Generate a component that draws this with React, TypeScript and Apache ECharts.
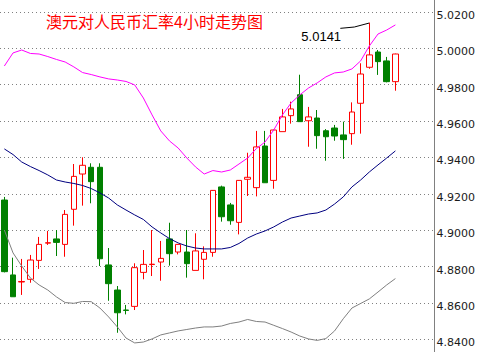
import React, { useEffect, useRef } from "react";
import * as echarts from "echarts";

const titleText = "澳元对人民币汇率4小时走势图";
const annotationText = "5.0141";
const yTicks = { min: 4.84, max: 5.02, step: 0.02 };

const opens = [
  4.9166, 4.8754, 4.8715, 4.873, 4.8834, 4.8929, 4.8952, 4.8922, 4.9115, 4.9309,
  4.9346, 4.9346, 4.8809, 4.8671, 4.8561, 4.8581, 4.8768, 4.8811, 4.8825, 4.8952,
  4.888, 4.888, 4.8779, 4.884, 4.8878, 4.9238, 4.9139, 4.9043, 4.928, 4.9234,
  4.9463, 4.9274, 4.9542, 4.963, 4.9745, 4.9602, 4.9617, 4.9547, 4.9562, 4.9524,
  4.9531, 4.9698, 4.9896, 4.998, 4.9931, 4.9817,
];
const closes = [
  4.8772, 4.8634, 4.8718, 4.8836, 4.8922, 4.8931, 4.8933, 4.9087, 4.9296, 4.9357,
  4.9267, 4.8843, 4.8706, 4.8546, 4.8559, 4.8794, 4.8812, 4.8813, 4.8845, 4.8871,
  4.8922, 4.8816, 4.8886, 4.8878, 4.9219, 4.9074, 4.9052, 4.9274, 4.9291, 4.9458,
  4.9261, 4.9551, 4.9623, 4.9667, 4.9597, 4.9623, 4.952, 4.9514, 4.9518, 4.9498,
  4.965, 4.9859, 4.9964, 4.9927, 4.9817, 4.9969,
];
const lows = [
  4.8768, 4.8634, 4.8644, 4.8711, 4.8787, 4.8919, 4.8858, 4.8854, 4.9025, 4.9135,
  4.9148, 4.8803, 4.8612, 4.8436, 4.8537, 4.8561, 4.873, 4.8748, 4.8722, 4.8805,
  4.8867, 4.8739, 4.8779, 4.873, 4.8854, 4.9047, 4.903, 4.8977, 4.9188, 4.9186,
  4.9261, 4.9228, 4.9542, 4.9586, 4.9597, 4.9459, 4.9448, 4.9382, 4.9492, 4.9392,
  4.947, 4.9531, 4.9888, 4.9854, 4.9813, 4.9767,
];
const highs = [
  4.9183, 4.8849, 4.8842, 4.8864, 4.8963, 4.8996, 4.9001, 4.9111, 4.9364, 4.9401,
  4.9368, 4.9368, 4.8902, 4.8693, 4.8589, 4.8818, 4.8891, 4.9001, 4.8941, 4.9041,
  4.8924, 4.9001, 4.8983, 4.8911, 4.9221, 4.9245, 4.915, 4.9276, 4.9426, 4.9546,
  4.9546, 4.9553, 4.9667, 4.9707, 4.9855, 4.9678, 4.9661, 4.9556, 4.9579, 4.9597,
  4.9703, 4.9918, 5.0141, 4.9991, 4.9953, 4.9971,
];
const upperBand = [
  4.9903, 4.9975, 4.9991, 4.9972, 4.9969, 4.9955, 4.9939, 4.9925, 4.9898, 4.9867,
  4.9856, 4.9843, 4.9832, 4.9826, 4.9818, 4.9799, 4.9727, 4.9634, 4.9546, 4.9491,
  4.9452, 4.9397, 4.9348, 4.9309, 4.9328, 4.932, 4.9331, 4.9364, 4.9397, 4.9449,
  4.9485, 4.9551, 4.9634, 4.97, 4.9744, 4.9782, 4.981, 4.9843, 4.9865, 4.987,
  4.9887, 4.9931, 5.0013, 5.0079, 5.0101, 5.0129,
];
const middleBand = [
  4.9447, 4.9416, 4.9375, 4.935, 4.9328, 4.9304, 4.9276, 4.9265, 4.9257, 4.9246,
  4.9229, 4.9205, 4.9177, 4.9139, 4.9111, 4.9084, 4.9059, 4.9018, 4.8985, 4.8954,
  4.893, 4.8913, 4.8902, 4.8897, 4.8897, 4.8897, 4.8905, 4.8927, 4.8957, 4.8979,
  4.8996, 4.9018, 4.9045, 4.9067, 4.9078, 4.9089, 4.9095, 4.9111, 4.9144, 4.9183,
  4.9238, 4.9276, 4.932, 4.9359, 4.9397, 4.9436,
];
const lowerBand = [
  4.9001, 4.8875, 4.8803, 4.8737, 4.8699, 4.8671, 4.8633, 4.8602, 4.8598, 4.8608,
  4.8607, 4.8572, 4.8523, 4.8468, 4.8407, 4.838, 4.8385, 4.8402, 4.8424, 4.8435,
  4.8446, 4.8454, 4.8462, 4.8468, 4.8468, 4.8473, 4.8487, 4.8495, 4.8509, 4.8498,
  4.8495, 4.8477, 4.8459, 4.844, 4.8418, 4.8402, 4.8394, 4.8404, 4.8446, 4.8513,
  4.8572, 4.8597, 4.8622, 4.866, 4.8699, 4.8734,
];
const annotatedIndex = 42;
const slotCount = 50;
const categories = Array.from({ length: slotCount }, (_, i) => String(i + 1));

export default function App() {
  const ref = useRef<HTMLDivElement>(null);
  useEffect(() => {
    if (!ref.current) return;
    const chart = echarts.init(ref.current, null, { renderer: "svg" });
    const candles = opens.map((o, i) => [o, closes[i], lows[i], highs[i]]);
    const gridLeft = -1.5;
    const gridRight = 45.5;
    chart.setOption({
      animation: false,
      backgroundColor: "#ffffff",
      title: {
        text: titleText,
        left: 46,
        top: 12,
        padding: 0,
        textStyle: {
          color: "#ff0000",
          fontSize: 16,
          fontWeight: "normal",
          fontFamily: "Noto Sans CJK SC",
          lineHeight: 18,
        },
      },
      grid: { left: gridLeft, right: gridRight, top: 12, bottom: 12.7, containLabel: false },
      xAxis: {
        type: "category",
        data: categories,
        boundaryGap: true,
        axisLine: { show: false },
        axisTick: { show: false },
        axisLabel: { show: false },
        splitLine: { show: false },
      },
      yAxis: {
        type: "value",
        position: "right",
        min: yTicks.min,
        max: yTicks.max,
        interval: yTicks.step,
        scale: true,
        axisLine: { show: false },
        axisTick: { show: false },
        axisLabel: {
          formatter: (v: number) => v.toFixed(4),
          color: "#1a1a1a",
          fontSize: 11,
          fontFamily: "DejaVu Sans",
          margin: 2,
          verticalAlign: "top",
          lineHeight: 7,
        },
        splitLine: {
          show: true,
          lineStyle: { color: "#808080", width: 1, type: [1, 3] },
        },
      },
      series: [
        {
          type: "candlestick",
          data: candles,
          barWidth: 6,
          clip: false,
          itemStyle: {
            color: "#ffffff",
            color0: "#008000",
            borderColor: "#ff0000",
            borderColor0: "#008000",
            borderWidth: 1,
          },
        },
        {
          type: "line",
          data: upperBand,
          symbol: "none",
          clip: false,
          lineStyle: { color: "#ff00ff", width: 1 },
        },
        {
          type: "line",
          data: middleBand,
          symbol: "none",
          clip: false,
          lineStyle: { color: "#000080", width: 1 },
        },
        {
          type: "line",
          data: lowerBand,
          symbol: "none",
          clip: false,
          lineStyle: { color: "#808080", width: 1 },
        },
      ],
    });
    const p = chart.convertToPixel({ seriesIndex: 0 }, [annotatedIndex, highs[annotatedIndex]]) as number[];
    const axisX = 480 - gridRight;
    chart.setOption({
      graphic: [
        {
          type: "line",
          shape: { x1: axisX, y1: 0, x2: axisX, y2: 352 },
          style: { stroke: "#808080", lineWidth: 1 },
          silent: true,
        },
        {
          type: "polyline",
          shape: {
            points: [
              [p[0] - 29, p[1] + 5.6],
              [p[0] - 15, p[1] + 4.3],
              [p[0], p[1] + 0.3],
            ],
          },
          style: { stroke: "#000000", lineWidth: 1, fill: null },
          silent: true,
        },
        {
          type: "text",
          x: p[0] - 68,
          y: p[1] + 13.8,
          style: {
            text: annotationText,
            fill: "#000000",
            fontSize: 13,
            fontWeight: "normal",
            fontFamily: "Liberation Sans",
            verticalAlign: "middle",
          },
          silent: true,
        },
      ],
    });
    return () => chart.dispose();
  }, []);
  return (
    <div
      ref={ref}
      style={{ position: "fixed", left: 0, top: 0, width: 480, height: 352, background: "#fff" }}
    />
  );
}
